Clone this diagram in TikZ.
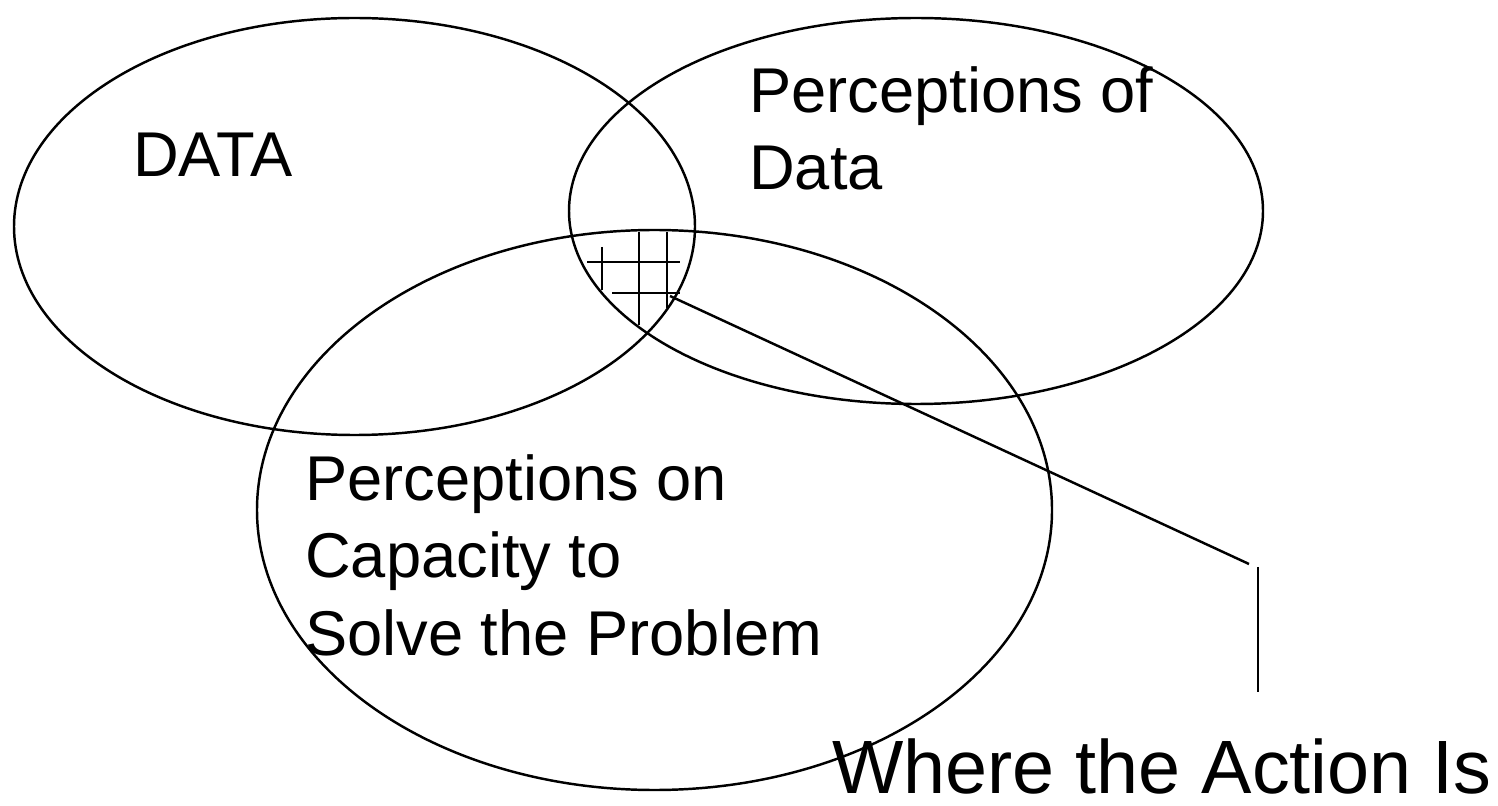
\documentclass[tikz,border=0pt]{standalone}
\usepackage{fontspec}
\setmainfont{Liberation Sans}
\begin{document}
\begin{tikzpicture}[line width=.7pt,
    lbl/.style={anchor=base west,inner sep=0pt,font=\fontsize{18}{22}\selectfont,align=left}]
    \useasboundingbox (0,0) rectangle (14.98,-8.06);
    \draw (3.545,-2.265) ellipse (3.405cm and 2.085cm);
    \draw (9.16,-2.11) ellipse (3.47cm and 1.93cm);
    \draw (6.545,-5.10) ellipse (3.975cm and 2.80cm);
    % grid in the common part
    \draw (6.02,-2.47)--(6.02,-2.90); \draw (6.39,-2.32)--(6.39,-3.25); \draw (6.67,-2.32)--(6.67,-3.08);
    \draw (5.87,-2.62)--(6.80,-2.62); \draw (6.12,-2.93)--(6.80,-2.93);
    \node[lbl] (data) at (1.32,-1.77) {DATA};
    \node[lbl] (percdata) at (7.48,-1.90) {Perceptions of\\Data};
    \node[lbl] (perccap) at (3.04,-6.55) {Perceptions on\\Capacity to\\Solve the Problem};
    \node[lbl,font=\fontsize{21.5}{26}\selectfont] (action) at (8.31,-7.93) {Where the Action Is};
    \coordinate (gridend) at (6.70,-2.96);
    \coordinate (bend) at (12.49,-5.64);
    \coordinate (vtop) at (12.58,-5.67);
    \coordinate (vbot) at (12.58,-6.92);
    \draw (gridend)--(bend); \draw (vtop)--(vbot);
\end{tikzpicture}
\end{document}
